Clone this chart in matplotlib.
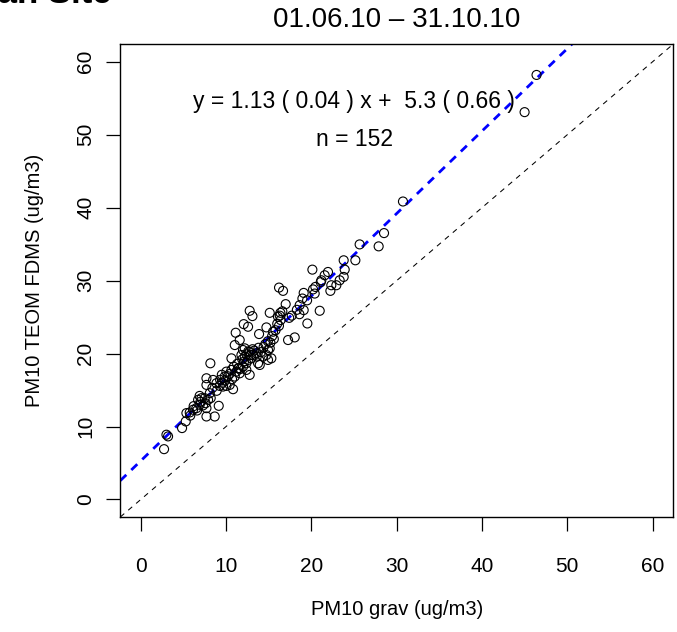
import matplotlib
matplotlib.use("Agg")
import matplotlib.pyplot as plt
import numpy as np

plt.rcParams['font.family'] = ['Liberation Sans', 'DejaVu Sans']

# PM10 gravimetric (x) vs PM10 TEOM FDMS (y)
grav = [3.01, 3.2, 2.73, 4.84,
        5.27, 5.35, 5.74, 6.13, 6.52, 6.91, 6.72, 7.11, 7.50, 7.89, 7.70, 7.70, 8.67, 9.14, 8.09, 7.70,
        7.70, 8.48, 8.87, 9.26, 9.65, 10.04, 10.43, 10.82, 9.84, 10.04, 10.63, 11.21, 11.60, 11.02, 11.41,
        11.99, 12.38, 12.77, 12.38, 12.58, 12.97, 12.19, 11.80, 10.63, 11.99, 12.19, 12.77, 13.16, 13.55,
        13.75, 13.95, 14.34, 14.73, 14.92, 15.12, 15.31, 14.92, 8.16,
        30.74, 28.52, 27.89, 25.66, 25.16, 23.79, 23.91, 23.79, 23.32, 22.93, 22.34, 21.95, 21.56, 21.17,
        20.12, 20.47, 20.39, 22.23, 20.98, 19.10, 18.95, 18.63, 19.10, 19.53, 16.21, 16.68, 16.99, 16.37,
        16.09, 15.12, 12.77, 13.09, 12.07, 12.58, 11.13, 11.60, 13.87, 14.73, 15.51, 18.05, 17.27, 11.02,
        46.4, 45.0,
        5.8, 6.2, 6.6, 7.0, 7.3, 6.9, 7.6, 8.2, 8.4, 8.9,
        9.3, 9.6, 9.9, 10.2, 10.4, 10.7, 10.9, 11.3, 11.5, 11.7,
        11.9, 12.1, 12.4, 12.6, 12.9, 13.1, 13.3, 13.6, 13.8, 14.1,
        14.4, 14.6, 14.9, 15.2, 15.4, 15.6, 15.8, 16.0, 16.2, 16.4,
        16.6, 16.3, 17.4, 17.7, 18.3, 18.6, 19.5, 20.2, 21.1, 9.5]
teom = [8.88, 8.65, 6.9, 9.79,
        10.70, 11.84, 11.93, 12.30, 12.52, 12.98, 13.66, 13.89, 13.89, 13.66, 12.52, 11.38, 11.38, 12.84, 14.57, 15.71,
        16.62, 16.39, 15.94, 15.57, 15.48, 15.57, 15.71, 15.12, 16.85, 17.53, 17.76, 17.53, 17.30, 16.85, 17.99,
        18.21, 17.76, 17.08, 18.67, 19.13, 19.35, 19.58, 19.81, 19.35, 20.49, 20.72, 20.26, 19.81, 20.04,
        18.67, 18.44, 19.58, 19.81, 20.49, 20.72, 19.35, 19.13, 18.67,
        40.85, 36.52, 34.70, 34.97, 32.79, 32.79, 31.51, 30.51, 30.05, 29.37, 29.37, 31.19, 30.74, 30.05,
        31.51, 29.14, 28.23, 28.60, 25.87, 28.32, 27.55, 26.64, 25.96, 24.13, 29.05, 28.60, 26.78, 25.59,
        25.05, 25.59, 25.87, 25.14, 24.04, 23.68, 22.86, 21.86, 22.68, 23.59, 23.0, 22.22, 21.86, 21.17,
        58.2, 53.1,
        11.5, 12.8, 12.2, 13.4, 12.9, 14.2, 13.2, 13.9, 15.3, 14.9,
        16.4, 16.0, 16.3, 16.9, 17.2, 16.5, 18.2, 18.6, 18.0, 17.9,
        19.2, 18.9, 19.9, 20.3, 19.8, 20.6, 20.4, 19.6, 20.8, 20.2,
        20.9, 21.3, 21.7, 21.5, 22.4, 22.0, 23.2, 24.1, 23.8, 24.6,
        25.8, 25.2, 24.9, 25.2, 26.0, 25.4, 27.3, 28.8, 29.8, 17.1]

slope, slope_se = 1.13, 0.04
intercept, intercept_se = 5.3, 0.66
n_obs = 152
ticks = [0, 10, 20, 30, 40, 50, 60]
title = "01.06.10 \u2013 31.10.10"
site = "Urban Site"

W, H = 677, 632
fig = plt.figure(figsize=(W / 100, H / 100), dpi=100)
ax = fig.add_axes([120.3 / W, 1 - 517 / H, (673 - 120.3) / W, (517 - 44.3) / H])

lim = (-2.4, 62.4)
ax.set_xlim(lim)
ax.set_ylim(lim)

# 1:1 line
xx = np.array(lim)
ax.plot(xx, xx, color='black', lw=0.75, dashes=(5, 5), zorder=1)
# regression line
ax.plot(xx, intercept + slope * xx, color='blue', lw=2.0, dashes=(3, 2.5), zorder=2)

ax.scatter(grav, teom, s=42, facecolors='none', edgecolors='black', linewidths=0.8, zorder=3)

ax.set_xticks(ticks)
ax.set_yticks(ticks)
ax.set_xticklabels([str(t) for t in ticks], fontsize=15)
ax.set_yticklabels([str(t) for t in ticks], fontsize=15, rotation=90, va='center')
ax.tick_params(direction='out', length=10, width=0.9)
ax.tick_params(axis='x', pad=19)
ax.tick_params(axis='y', pad=8)
for s in ax.spines.values():
    s.set_linewidth(1.0)

ax.set_xlabel("PM10 grav (ug/m3)", fontsize=14.5, labelpad=17)
ax.set_ylabel("PM10 TEOM FDMS (ug/m3)", fontsize=14.5, labelpad=23)

ax.text(25, 54.6, f"y = {slope:.2f} ( {slope_se:.2f} ) x +  {intercept:.1f} ( {intercept_se:.2f} )",
        ha='center', va='center', fontsize=16.5)
ax.text(25, 49.3, f"n = {n_obs}", ha='center', va='center', fontsize=16.5)

fig.text(396.7 / W, 1 - 20 / H, title, ha='center', va='center', fontsize=20)
fig.text(112 / W, 1 - 3 / H, site, ha='right', va='baseline', fontsize=25, fontweight='bold')

fig.savefig("out.png", dpi=100)
